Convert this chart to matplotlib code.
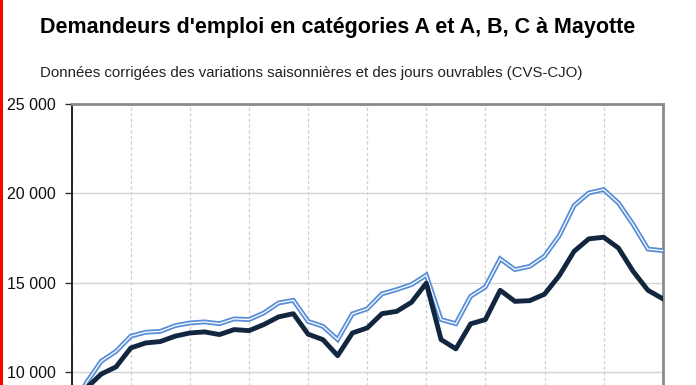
import matplotlib
matplotlib.use("Agg")
import matplotlib.pyplot as plt
from matplotlib import font_manager as fm
from matplotlib.lines import Line2D

# ---- data (quarterly points) ----
cat_abc = [7900, 9400, 10600, 11150, 12000, 12220, 12270, 12590, 12740, 12800,
           12700, 12970, 12930, 13300, 13860, 14010, 12830, 12550, 11810, 13250,
           13530, 14370, 14610, 14890, 15420, 12930, 12700, 14230, 14760, 16330,
           15730, 15910, 16480, 17630, 19310, 20020, 20210, 19460, 18250, 16880,
           16790]
cat_a = [7600, 9100, 9880, 10280, 11340, 11620, 11700, 12000, 12180, 12240,
         12090, 12370, 12310, 12650, 13080, 13260, 12110, 11810, 10910, 12180,
         12460, 13260, 13390, 13900, 14970, 11810, 11290, 12690, 12930, 14570,
         13950, 13990, 14350, 15390, 16750, 17450, 17540, 16940, 15630, 14570,
         14100]
y_ticks = [5000, 10000, 15000, 20000, 25000]
y_tick_labels = ["5 000", "10 000", "15 000", "20 000", "25 000"]
title = "Demandeurs d'emploi en catégories A et A, B, C à Mayotte"
subtitle = "Données corrigées des variations saisonnières et des jours ouvrables (CVS-CJO)"

names = {f.name for f in fm.fontManager.ttflist}
main_font = "Liberation Sans" if "Liberation Sans" in names else "DejaVu Sans"
tick_font = "Liberation Sans Narrow" if "Liberation Sans Narrow" in names else main_font

W, H = 696, 385
fig = plt.figure(figsize=(W / 100, H / 100), dpi=100)
fig.patch.set_facecolor("white")

left_px, right_px, top_px = 71.7, 662.7, 104.0
px_per_unit = 89.3 / 5000
ymin, ymax = 5000, 25000
h_px = (ymax - ymin) * px_per_unit
ax = fig.add_axes([left_px / W, 1 - (top_px + h_px) / H,
                   (right_px - left_px) / W, h_px / H])

x = list(range(len(cat_a)))
ax.plot(x, cat_abc, color="#5a8fd8", lw=3.5, solid_joinstyle="miter", zorder=3)
ax.plot(x, cat_abc, color="white", lw=0.9, zorder=4)
ax.plot(x, cat_a, color="#13263f", lw=3.5, solid_joinstyle="round", zorder=5)

ax.set_xlim(0, len(x) - 1)
ax.set_ylim(ymin, ymax)
ax.set_yticks(y_ticks)
ax.set_yticklabels(y_tick_labels, fontfamily=tick_font, fontsize=11.5, color="#111111")
ax.set_xticks(range(0, len(x), 4))
ax.set_xticklabels([])
ax.tick_params(axis="x", length=0)
ax.tick_params(axis="y", length=4.8, width=1.0, color="#333333", pad=6.5, direction="out")

ax.grid(axis="y", color="#d4d4d4", lw=1.0, ls="-", zorder=0)
ax.grid(axis="x", color="#cfcfcf", lw=0.9, ls=(0, (2.5, 2)), zorder=0)
ax.set_axisbelow(True)

for s in ["top", "right"]:
    ax.spines[s].set_color("#8a8a8a")
    ax.spines[s].set_linewidth(2.0)
ax.spines["left"].set_color("#222222")
ax.spines["left"].set_linewidth(1.4)
ax.spines["bottom"].set_visible(False)

fig.text(40 / W, 1 - 28 / H, title, fontfamily=main_font, fontweight="bold",
         fontsize=15.5, va="center", ha="left", color="black")
fig.text(40 / W, 1 - 72.5 / H, subtitle, fontfamily=main_font,
         fontsize=10.85, va="center", ha="left", color="#222222")

fig.add_artist(Line2D([1 / W, 1 / W], [0, 1], color="#ff0000", lw=2.2,
                      transform=fig.transFigure))

fig.savefig("out.png", dpi=100)
